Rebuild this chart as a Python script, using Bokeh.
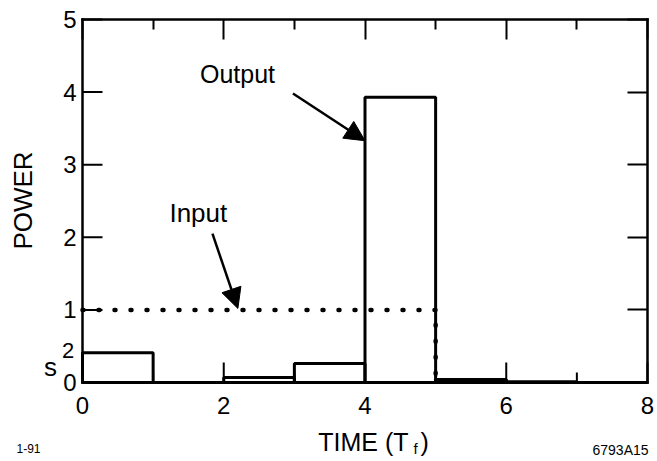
import numpy as np
from bokeh.plotting import figure
from bokeh.models import Range1d, LinearAxis, FixedTicker, Label, Arrow, NormalHead
from bokeh.embed import file_html
from bokeh.resources import INLINE

# ---- data ----
time_edges = [0, 1, 2, 3, 4, 5, 6, 7, 8]
output_power = [0.41, 0.0, 0.07, 0.26, 3.93, 0.04, 0.01, 0.0]
input_time = [0, 5, 5]
input_power = [1, 1, 0]
x_ticks = [0, 2, 4, 6, 8]
x_minor_ticks = [1, 3, 5, 7]
y_ticks = [0, 1, 2, 3, 4, 5]
x_lim = (0, 8)
y_lim = (0, 5)

FONT = "Liberation Sans"
W, H = 657, 461
BOX_L, BOX_R, BOX_T, BOX_B = 82, 647, 19, 382
MAJOR, MINOR = 20, 10
sx = (BOX_R - BOX_L) / (x_lim[1] - x_lim[0])
sy = (BOX_B - BOX_T) / (y_lim[1] - y_lim[0])
xr = Range1d(x_lim[0] - BOX_L / sx, x_lim[1] + (W - BOX_R) / sx)
yr = Range1d(y_lim[0] - (H - BOX_B) / sy, y_lim[1] + BOX_T / sy)

p = figure(width=W, height=H, output_backend="svg", toolbar_location=None,
           x_range=xr, y_range=yr, x_axis_location=None, y_axis_location=None,
           min_border=0)
p.grid.visible = False
p.background_fill_color = "white"
p.border_fill_color = "white"
p.outline_line_color = None


def tick_axis(ticks, minor, loc, bounds, tin=MAJOR, tmin=MINOR):
    ax = LinearAxis(fixed_location=loc, bounds=bounds)
    ax.ticker = FixedTicker(ticks=ticks, minor_ticks=minor)
    ax.axis_line_color = "black"
    ax.axis_line_width = 2.5
    ax.axis_line_cap = "square"
    ax.major_tick_line_color = "black" if tin else None
    ax.major_tick_line_width = 2
    ax.minor_tick_line_color = "black" if tmin else None
    ax.minor_tick_line_width = 2
    ax.major_tick_out = 0
    ax.minor_tick_out = 0
    ax.major_tick_in = tin
    ax.minor_tick_in = tmin
    ax.major_label_overrides = {t: "" for t in ticks}
    ax.major_label_standoff = 0
    return ax


def label_axis(ticks, loc, bounds, standoff):
    ax = LinearAxis(fixed_location=loc, bounds=bounds)
    ax.ticker = FixedTicker(ticks=ticks, minor_ticks=[])
    ax.axis_line_color = None
    ax.major_tick_line_color = None
    ax.minor_tick_line_color = None
    ax.major_tick_in = 0
    ax.major_tick_out = 0
    ax.minor_tick_in = 0
    ax.minor_tick_out = 0
    ax.major_label_text_font = FONT
    ax.major_label_text_font_size = "24px"
    ax.major_label_text_color = "black"
    ax.major_label_standoff = standoff
    return ax


# box sides
p.add_layout(tick_axis(x_ticks, [], y_lim[0], x_lim, 0, 0), "below")
p.add_layout(tick_axis(y_ticks, [], x_lim[0], y_lim, 0, 0), "left")
p.add_layout(tick_axis(x_ticks, x_minor_ticks, y_lim[1], x_lim), "above")
p.add_layout(tick_axis(y_ticks, [], x_lim[1], y_lim), "right")
# tick labels
p.add_layout(label_axis(x_ticks, y_lim[0], x_lim, 14), "below")
p.add_layout(label_axis(y_ticks, x_lim[0], y_lim, 6), "left")

# inward ticks of left and bottom sides, from the tick arrays
p.segment(x0=x_lim[0], y0=y_ticks, x1=x_lim[0] + MAJOR / sx, y1=y_ticks,
          line_color="black", line_width=2)
p.segment(x0=x_ticks, y0=y_lim[0], x1=x_ticks, y1=y_lim[0] + MAJOR / sy,
          line_color="black", line_width=2)
p.segment(x0=x_minor_ticks, y0=y_lim[0], x1=x_minor_ticks, y1=y_lim[0] + MINOR / sy,
          line_color="black", line_width=2)

# output step bars
p.quad(left=time_edges[:-1], right=time_edges[1:], bottom=0, top=output_power,
       fill_color=None, line_color="black", line_width=3)

# input dotted line
p.line(input_time, input_power, line_color="black", line_width=4.5,
       line_dash="1 15", line_cap="round")

# arrows
for xs, ys, xe, ye in [(2.98, 3.98, 4.0, 3.33), (1.84, 2.05, 2.2, 1.02)]:
    p.add_layout(Arrow(end=NormalHead(size=20, fill_color="black", line_color="black"),
                       x_start=xs, y_start=ys, x_end=xe, y_end=ye,
                       line_color="black", line_width=2.5))


def lab(x, y, text, size, align="center", angle=0.0):
    p.add_layout(Label(x=x, y=y, text=text, text_font=FONT, text_font_size=size,
                       text_align=align, text_baseline="middle", angle=angle,
                       text_color="black"))


lab(2.195, 4.25, "Output", "25px")
lab(1.64, 2.34, "Input", "26px")
lab(-0.8425, 2.507, "POWER", "26px", angle=np.pi / 2)
lab(4.616, -0.82, "TIME (T", "25px", align="right")
lab(4.715, -0.909, "f", "15px")
lab(4.786, -0.82, ")", "25px", align="left")
lab(-0.453, 0.207, "s", "26px")
lab(-0.205, 0.434, "2", "22px")
lab(-0.765, -0.909, "1-91", "12px")
lab(7.618, -0.923, "6793A15", "14px")

open("out.html", "w").write(file_html(p, INLINE))
